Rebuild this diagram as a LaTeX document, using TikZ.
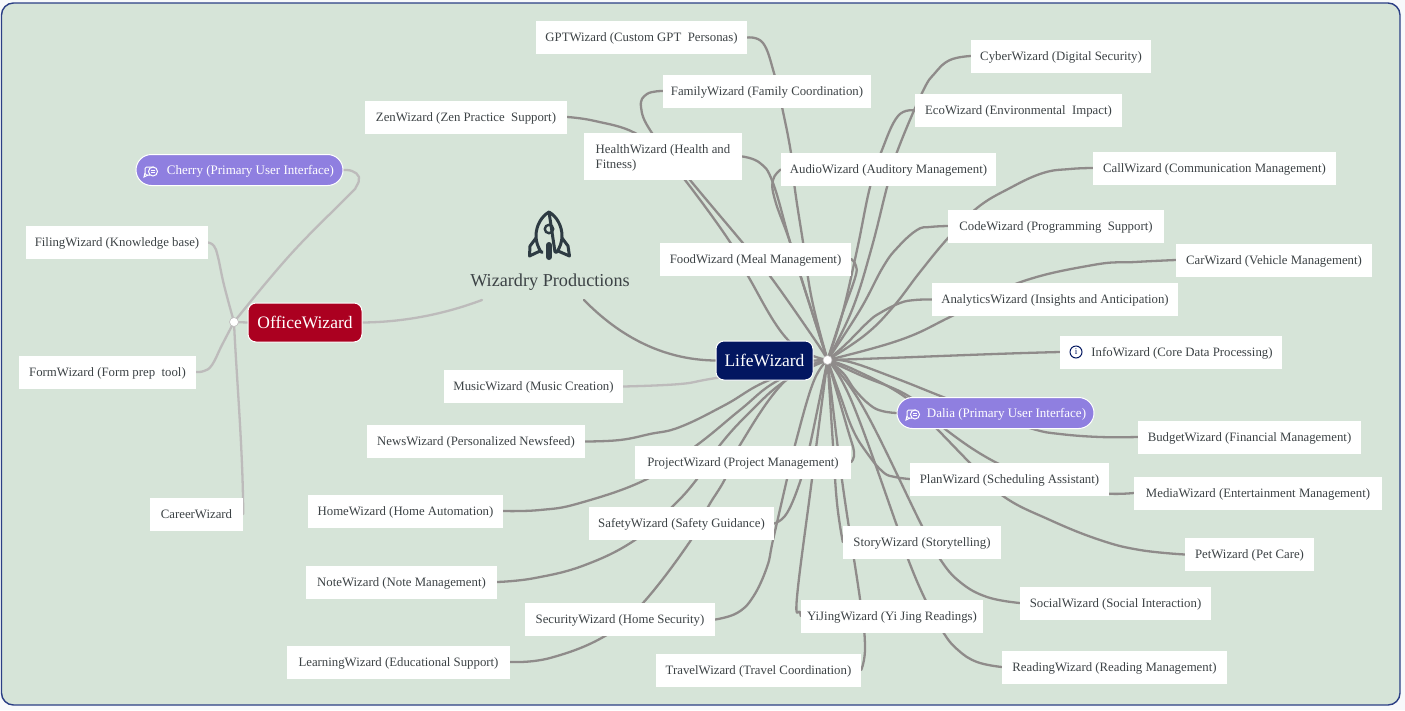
\documentclass[tikz,border=0pt]{standalone}
\usepackage{fontspec}
\setmainfont{Liberation Serif}
\pgfdeclarelayer{wires}
\pgfsetlayers{wires,main}
\definecolor{page}{HTML}{F7F9FB}
\definecolor{panel}{HTML}{D6E4D8}
\definecolor{panelline}{HTML}{2B3F85}
\definecolor{wirecol}{HTML}{8F8B8A}
\definecolor{lightwire}{HTML}{BDBBBB}
\definecolor{textcol}{HTML}{3C4245}
\definecolor{iconcol}{HTML}{2E3B43}
\definecolor{pillcol}{HTML}{8F7FE0}
\definecolor{lifecol}{HTML}{021660}
\definecolor{officecol}{HTML}{AB0020}
\tikzset{
  wbox/.style={fill=white,text=textcol,inner sep=0pt,minimum height=33pt,text height=10pt,text depth=2pt,font=\fontsize{12.8}{15}\selectfont},
  pill/.style={fill=pillcol,draw=white,line width=1pt,text=white,inner sep=0pt,minimum height=31pt,text height=10pt,text depth=2pt,rounded corners=15.5pt,font=\fontsize{13}{15}\selectfont},
  mainbox/.style={draw=white,line width=1pt,text=white,inner sep=0pt,minimum height=39pt,rounded corners=8pt,font=\fontsize{17.5}{20}\selectfont},
  hubdot/.style={circle,fill=white,draw=lightwire,line width=.6pt,inner sep=0pt,minimum size=9pt},
  wire/.style={draw=wirecol,line width=2.3pt,line cap=round,line join=round},
  lwire/.style={draw=lightwire,line width=2.3pt,line cap=round,line join=round},
  chat/.pic={
    \draw[white,line width=1pt,rounded corners=1.5pt] (-1,5) -- (-6,5) -- (-6,-3) -- (3,-3);
    \draw[white,line width=1pt] (-6,3) -- (-7,7) -- (-3,5);
    \draw[white,line width=1pt,fill=pillcol] (2,1.5) circle (4.5);
    \draw[white,line width=.7pt] (0,.5) -- (4,.5) (0,2.5) -- (4,2.5);
  }
}
\begin{document}
\begin{tikzpicture}[x=1pt,y=-1pt]
\useasboundingbox (0,0) rectangle (1405,710);

\node[wbox,minimum width=211] (gpt) at (641.5,37.5) {GPTWizard (Custom GPT\ \ Personas)};
\node[wbox,minimum width=208] (family) at (767,91) {FamilyWizard (Family Coordination)};
\node[wbox,minimum width=202] (zen) at (466,117) {ZenWizard (Zen Practice\ \ Support)};
\node[wbox,minimum width=158,minimum height=47,text height=25pt,align=left] (health) at (663,156.5) {HealthWizard (Health and\\Fitness)};
\node[wbox,minimum width=215] (audio) at (888.5,169.5) {AudioWizard (Auditory Management)};
\node[wbox,minimum width=180] (cyber) at (1061,56) {CyberWizard (Digital Security)};
\node[wbox,minimum width=207] (eco) at (1018.5,110.5) {EcoWizard (Environmental\ \ Impact)};
\node[wbox,minimum width=243] (call) at (1214.5,168) {CallWizard (Communication Management)};
\node[wbox,minimum width=216] (code) at (1056,226) {CodeWizard (Programming\ \ Support)};
\node[wbox,minimum width=196] (car) at (1274,260) {CarWizard (Vehicle Management)};
\node[wbox,minimum width=246] (analytics) at (1055,299.5) {AnalyticsWizard (Insights and Anticipation)};
\node[wbox,minimum width=191] (food) at (755.5,259) {FoodWizard (Meal Management)};
\node[wbox,minimum width=222] (info) at (1171,352) {\hspace*{22pt}InfoWizard (Core Data Processing)};
\node[wbox,minimum width=179] (music) at (533.5,386.5) {MusicWizard (Music Creation)};
\node[wbox,minimum width=218] (news) at (476,441.5) {NewsWizard (Personalized Newsfeed)};
\node[wbox,minimum width=216] (project) at (743,462) {ProjectWizard (Project Management)};
\node[wbox,minimum width=195] (home) at (405.5,511) {HomeWizard (Home Automation)};
\node[wbox,minimum width=185] (safety) at (681.5,523.5) {SafetyWizard (Safety Guidance)};
\node[wbox,minimum width=191] (note) at (401.5,582) {NoteWizard (Note Management)};
\node[wbox,minimum width=190] (security) at (620,619.5) {SecurityWizard (Home Security)};
\node[wbox,minimum width=223] (learning) at (398.5,662) {LearningWizard (Educational Support)};
\node[wbox,minimum width=205] (travel) at (758.5,670) {TravelWizard (Travel Coordination)};
\node[wbox,minimum width=182] (yijing) at (892,616) {YiJingWizard (Yi Jing Readings)};
\node[wbox,minimum width=158] (story) at (922,542) {StoryWizard (Storytelling)};
\node[wbox,minimum width=191] (social) at (1115.5,603) {SocialWizard (Social Interaction)};
\node[wbox,minimum width=225] (reading) at (1114.5,667) {ReadingWizard (Reading Management)};
\node[wbox,minimum width=199] (plan) at (1009.5,479) {PlanWizard (Scheduling Assistant)};
\node[wbox,minimum width=248] (media) at (1258,493) {MediaWizard (Entertainment Management)};
\node[wbox,minimum width=129] (pet) at (1249.5,554.5) {PetWizard (Pet Care)};
\node[wbox,minimum width=223] (budget) at (1249.5,437) {BudgetWizard (Financial Management)};
\node[wbox,minimum width=182] (filing) at (117,242.5) {FilingWizard (Knowledge base)};
\node[wbox,minimum width=177] (form) at (107.5,372) {FormWizard (Form prep\ \ tool)};
\node[wbox,minimum width=93] (career) at (196.5,514) {CareerWizard};
\node[pill,minimum width=197] (dalia) at (995.5,413) {\hspace*{22pt}Dalia (Primary User Interface)};
\node[pill,minimum width=207] (cherry) at (239.5,170) {\hspace*{22pt}Cherry (Primary User Interface)};
\node[mainbox,fill=lifecol,minimum width=97] (life) at (764.5,360.5) {LifeWizard};
\node[mainbox,fill=officecol,minimum width=114] (office) at (305,322.5) {OfficeWizard};
\node[hubdot] (lifehub) at (827.5,360) {};
\node[hubdot] (officehub) at (234,322) {};
\node[text=textcol,inner sep=0pt,font=\fontsize{18.2}{20}\selectfont] (title) at (550,282) {Wizardry Productions};
\coordinate (titleleft) at (482,300);
\coordinate (titleright) at (584,300);

\pic at (151,170) {chat};
\pic at (913,413) {chat};
\draw[lifecol,line width=1pt] (1076,352) circle (6);
\node[text=lifecol,inner sep=0pt,font=\fontsize{9}{9}\selectfont] (infoi) at (1076,352) {i};

\draw[iconcol,line width=3pt,line join=round] (549,212) .. controls (542,216) and (536,225) .. (536,236) .. controls (536,242) and (538,247) .. (541,252) -- (543,252) (555,252) -- (557,252) .. controls (560,247) and (562,242) .. (562,236) .. controls (562,225) and (556,216) .. (549,212) -- cycle;
\draw[iconcol,line width=2.4pt] (549,229) circle (4.2);
\draw[iconcol,line width=3pt,line join=round] (536,238) -- (530,246) -- (529.5,256) -- (540,251);
\draw[iconcol,line width=3pt,line join=round] (562,238) -- (568,246) -- (569.5,256) -- (558,251);
\draw[iconcol,line width=6pt,line cap=round] (549,245) -- (549,257);

\begin{pgfonlayer}{wires}
\fill[page] (0,0) rectangle (1405,710);
\draw[fill=panel,draw=panelline,line width=1.4pt,rounded corners=12pt] (1.5,3) rectangle (1400,705);

\draw[lwire] (office.east) .. controls (410,322) and (450,312) .. (titleleft);
\draw[lwire] (officehub.center) -- (office.west);
\draw[lwire] plot[smooth,tension=.7] coordinates {(officehub.center) (224,285) (218,257) (214,246) (filing.east)};
\draw[lwire] plot[smooth,tension=.7] coordinates {(officehub.center) (222,345) (212,365) (204,371) (form.east)};
\draw[lwire] (officehub.center) .. controls (236,370) and (243,450) .. (career.east);
\draw[lwire] plot[smooth,tension=.7] coordinates {(officehub.center) (290,255) (347,197) (356,187) (359,177) (352,171) (cherry.east)};

\draw[wire] (titleright) .. controls (625,342) and (670,360) .. (life.west);
\draw[lwire] plot[smooth,tension=.7] coordinates {(lifehub.center) (716,378) (680,384) (music.east)};
\draw[wire] (lifehub.center) -- (life.east);

\draw[wire] plot[smooth,tension=.7] coordinates {(lifehub.center) (812,300) (803,242) (795,190) (791,153) (782,107) (774,73) (763,43) (gpt.east)};
\draw[wire] plot[smooth,tension=.7] coordinates {(lifehub.center) (788,340) (748,276) (730,242) (685,180) (665,158) (635,133) (595,121) (zen.east)};
\draw[wire] plot[smooth,tension=.7] coordinates {(lifehub.center) (815,340) (770,276) (742,242) (690,180) (652,133) (641,107) (647,94) (family.west)};
\draw[wire] plot[smooth,tension=.7] coordinates {(lifehub.center) (805,290) (790,242) (773,183) (760,163) (health.east)};
\draw[wire] plot[smooth,tension=.7] coordinates {(lifehub.center) (805,290) (790,242) (775,200) (773,180) (audio.west)};
\draw[wire] plot[smooth,tension=.7] coordinates {(lifehub.center) (842,315) (855,278) (856,266) (food.east)};
\draw[wire] plot[smooth,tension=.7] coordinates {(lifehub.center) (852,310) (871,250) (887,187) (897,152) (922,93) (935,73) (950,60) (cyber.west)};
\draw[wire] plot[smooth,tension=.7] coordinates {(lifehub.center) (842,315) (857,250) (870,187) (882,150) (898,116) (eco.west)};
\draw[wire] plot[smooth,tension=.7] coordinates {(lifehub.center) (865,335) (893,307) (920,272) (948,238) (977,208) (1010,188) (1043,173) (1070,169) (call.west)};
\draw[wire] plot[smooth,tension=.7] coordinates {(lifehub.center) (860,310) (883,267) (898,247) (917,230) (930,227) (code.west)};
\draw[wire] plot[smooth,tension=.7] coordinates {(lifehub.center) (900,340) (952,316) (1018,283) (1093,265) (1135,262) (car.west)};
\draw[wire] plot[smooth,tension=.7] coordinates {(lifehub.center) (845,345) (868,322) (880,313) (900,303) (915,300) (analytics.west)};
\draw[wire] (lifehub.center) .. controls (900,358) and (980,354) .. (info.west);

\draw[wire] plot[smooth,tension=.7] coordinates {(lifehub.center) (850,362) (895,378) (943,397) (985,413) (1033,429) (1060,434) (1100,437) (budget.west)};
\draw[wire] plot[smooth,tension=.7] coordinates {(lifehub.center) (843,373) (855,390) (870,405) (882,411) (dalia.west)};
\draw[wire] plot[smooth,tension=.7] coordinates {(lifehub.center) (860,375) (910,397) (945,429) (997,463) (1050,483) (1100,493) (media.west)};
\draw[wire] plot[smooth,tension=.7] coordinates {(lifehub.center) (855,370) (905,397) (937,429) (970,463) (1003,496) (1050,520) (1100,540) (1140,550) (pet.west)};
\draw[wire] plot[smooth,tension=.7] coordinates {(lifehub.center) (840,395) (853,430) (867,453) (883,472) (895,477) (plan.west)};
\draw[wire] plot[smooth,tension=.7] coordinates {(lifehub.center) (863,407) (922,526) (940,559) (960,582) (987,597) (social.west)};
\draw[wire] plot[smooth,tension=.7] coordinates {(lifehub.center) (852,402) (897,526) (908,559) (925,599) (943,632) (958,650) (977,662) (reading.west)};
\draw[wire] plot[smooth,tension=.7] coordinates {(lifehub.center) (833,445) (837,503) (story.west)};
\draw[wire] plot[smooth,tension=.7] coordinates {(lifehub.center) (842,480) (860,599) (865,647) (travel.east)};
\draw[wire] plot[smooth,tension=.7] coordinates {(lifehub.center) (812,479) (797,597) (800,612) (yijing.west)};
\draw[wire] plot[smooth,tension=.7] coordinates {(lifehub.center) (847,427) (854,452) (project.east)};
\draw[wire] plot[smooth,tension=.7] coordinates {(lifehub.center) (810,445) (801,479) (787,513) (safety.east)};
\draw[wire] plot[smooth,tension=.7] coordinates {(lifehub.center) (813,383) (795,445) (787,479) (773,540) (767,567) (753,597) (737,613) (security.east)};
\draw[wire] plot[smooth,tension=.7] coordinates {(lifehub.center) (785,381) (740,445) (725,479) (708,507) (691,540) (643,603) (605,636) (550,658) (learning.east)};
\draw[wire] plot[smooth,tension=.7] coordinates {(lifehub.center) (785,381) (750,412) (720,445) (697,479) (672,507) (635,540) (585,565) (535,578) (note.east)};
\draw[wire] plot[smooth,tension=.7] coordinates {(lifehub.center) (777,381) (740,410) (697,445) (647,479) (580,503) (540,510) (home.east)};
\draw[wire] plot[smooth,tension=.7] coordinates {(lifehub.center) (767,381) (725,405) (680,427) (650,434) (620,440) (news.east)};
\end{pgfonlayer}
\end{tikzpicture}
\end{document}
